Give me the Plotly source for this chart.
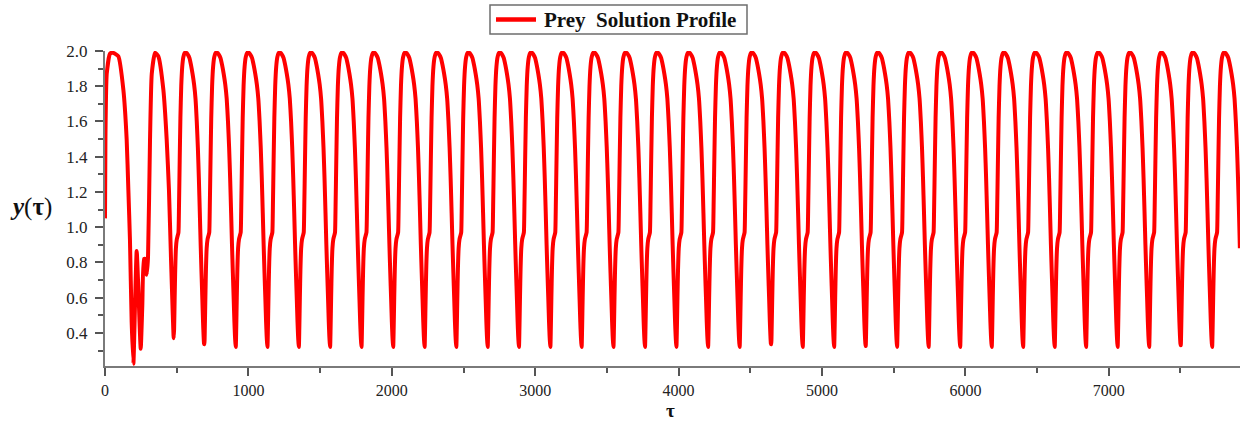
import plotly.graph_objects as go

# ---- data ----
# initial transient (tau, y)
transient_tau = [0, 3, 12, 35, 55, 93, 128, 151, 163, 174, 186, 198, 209, 221, 233, 249,
                 260, 272, 281, 291, 300, 314, 326, 349, 372, 407, 430, 446, 460, 472]
transient_y = [1.05, 1.50, 1.87, 1.985, 1.99, 1.97, 1.78, 1.50, 1.21, 0.93, 0.46, 0.225,
               0.55, 0.865, 0.64, 0.31, 0.55, 0.82, 0.82, 0.73, 0.83, 1.50, 1.87, 1.99,
               1.97, 1.78, 1.50, 1.21, 0.83, 0.52]

# times and values of each regular minimum
cycle_min_tau = [479, 693, 912, 1133, 1352, 1570, 1789, 2010, 2229, 2450, 2669, 2887,
                 3106, 3324, 3546, 3766, 3985, 4206, 4426, 4646, 4866, 5085, 5305, 5524,
                 5744, 5964, 6184, 6403, 6623, 6842, 7062, 7282, 7502, 7721]
cycle_min_y = [0.37, 0.335, 0.32, 0.32, 0.32, 0.32, 0.32, 0.32, 0.32, 0.32, 0.32, 0.32,
               0.32, 0.32, 0.32, 0.32, 0.32, 0.32, 0.32, 0.335, 0.32, 0.32, 0.325, 0.32,
               0.32, 0.32, 0.32, 0.32, 0.32, 0.32, 0.32, 0.32, 0.33, 0.32]

# shape of one regular cycle (offset after minimum, value)
shape_offset = [0, 3, 7, 11, 16, 22, 28, 34, 38, 43, 48, 54, 61, 69, 79, 90, 101, 113,
                124, 135, 146, 156, 165, 173, 180, 187, 193, 199, 205, 210, 214, 217]
shape_y = [0.32, 0.42, 0.60, 0.76, 0.88, 0.93, 0.95, 0.97, 1.12, 1.38, 1.62, 1.80, 1.91,
           1.965, 1.99, 1.99, 1.98, 1.96, 1.92, 1.87, 1.81, 1.73, 1.60, 1.45, 1.28, 1.08,
           0.90, 0.74, 0.59, 0.46, 0.38, 0.34]
nominal_period = 219.5

end_tau = 7914
end_y = 0.88

legend_text = "<b>Prey\u00a0 Solution Profile</b>"

# ---- assemble series ----
tau = list(transient_tau)
yv = list(transient_y)
for i, t0 in enumerate(cycle_min_tau):
    if i + 1 < len(cycle_min_tau):
        k = (cycle_min_tau[i + 1] - t0) / nominal_period
    else:
        k = 1.0
    for j, (off, val) in enumerate(zip(shape_offset, shape_y)):
        t = t0 + off * k
        if t >= end_tau:
            break
        tau.append(t)
        yv.append(cycle_min_y[i] if j == 0 else val)
tau.append(end_tau)
yv.append(end_y)

# ---- layout geometry (pixels) ----
W, H = 1241, 423
ML, MR, MT, MB = 105, 1, 51, 57
PW, PH = W - ML - MR, H - MT - MB


def px(xp):
    return (xp - ML) / PW


def py(yp):
    return (H - MB - yp) / PH


fig = go.Figure()
fig.add_trace(go.Scatter(
    x=tau, y=yv, mode="lines", name="Prey Solution Profile",
    line=dict(color="#ff0000", width=4, shape="spline", smoothing=0.5),
    showlegend=False,
))

tick_font = dict(family="Liberation Serif", size=17, color="#222")
xtick_font = dict(family="Liberation Serif", size=16, color="#222")
label_font = dict(family="Liberation Serif", size=21, color="#111")

fig.update_layout(
    width=W, height=H,
    margin=dict(l=ML, r=MR, t=MT, b=MB, autoexpand=False),
    paper_bgcolor="white", plot_bgcolor="white",
    showlegend=False,
    xaxis=dict(
        range=[0, 7915], tick0=0, dtick=1000, tickmode="linear",
        ticks="outside", ticklen=8, tickwidth=1.5, tickcolor="#555",
        showline=True, linecolor="#7a7a7a", linewidth=2,
        showgrid=False, zeroline=False, tickfont=xtick_font, ticklabelstandoff=1,
        minor=dict(tick0=0, dtick=500, ticks="outside", ticklen=5, tickwidth=1.5,
                   tickcolor="#555", showgrid=False),
    ),
    yaxis=dict(
        range=[0.212, 2.0], tick0=0.4, dtick=0.2, tickmode="linear", tickformat=".1f",
        ticks="outside", ticklen=8, tickwidth=1.5, tickcolor="#555",
        showline=True, linecolor="#7a7a7a", linewidth=2,
        showgrid=False, zeroline=False, tickfont=tick_font, ticklabelstandoff=4,
        minor=dict(tick0=0.3, dtick=0.1, ticks="outside", ticklen=5, tickwidth=1.5,
                   tickcolor="#555", showgrid=False),
    ),
    shapes=[
        # legend box
        dict(type="rect", xref="paper", yref="paper",
             x0=px(490), x1=px(747), y0=py(34), y1=py(5),
             line=dict(color="#6e6e6e", width=1.5), fillcolor="white"),
        # legend line sample
        dict(type="line", xref="paper", yref="paper",
             x0=px(496), x1=px(536), y0=py(19.5), y1=py(19.5),
             line=dict(color="#ff0000", width=4.5)),
    ],
    annotations=[
        dict(text=legend_text, xref="paper", yref="paper",
             x=px(542), y=py(20), xanchor="left", yanchor="middle",
             showarrow=False, font=label_font),
        dict(text="<b><i>y</i></b>(<b>τ</b>)", xref="paper", yref="paper",
             x=px(31), y=py(207), xanchor="center", yanchor="middle",
             showarrow=False, font=dict(family="Liberation Serif", size=25, color="#111")),
        dict(text="<b>τ</b>", xref="paper", yref="paper",
             x=px(670), y=py(422.5), xanchor="center", yanchor="bottom",
             showarrow=False, font=dict(family="Liberation Serif", size=19, color="#111")),
    ],
)

fig.write_html("out.html", config={"displayModeBar": False},
               post_script="document.body.style.margin='0';")
